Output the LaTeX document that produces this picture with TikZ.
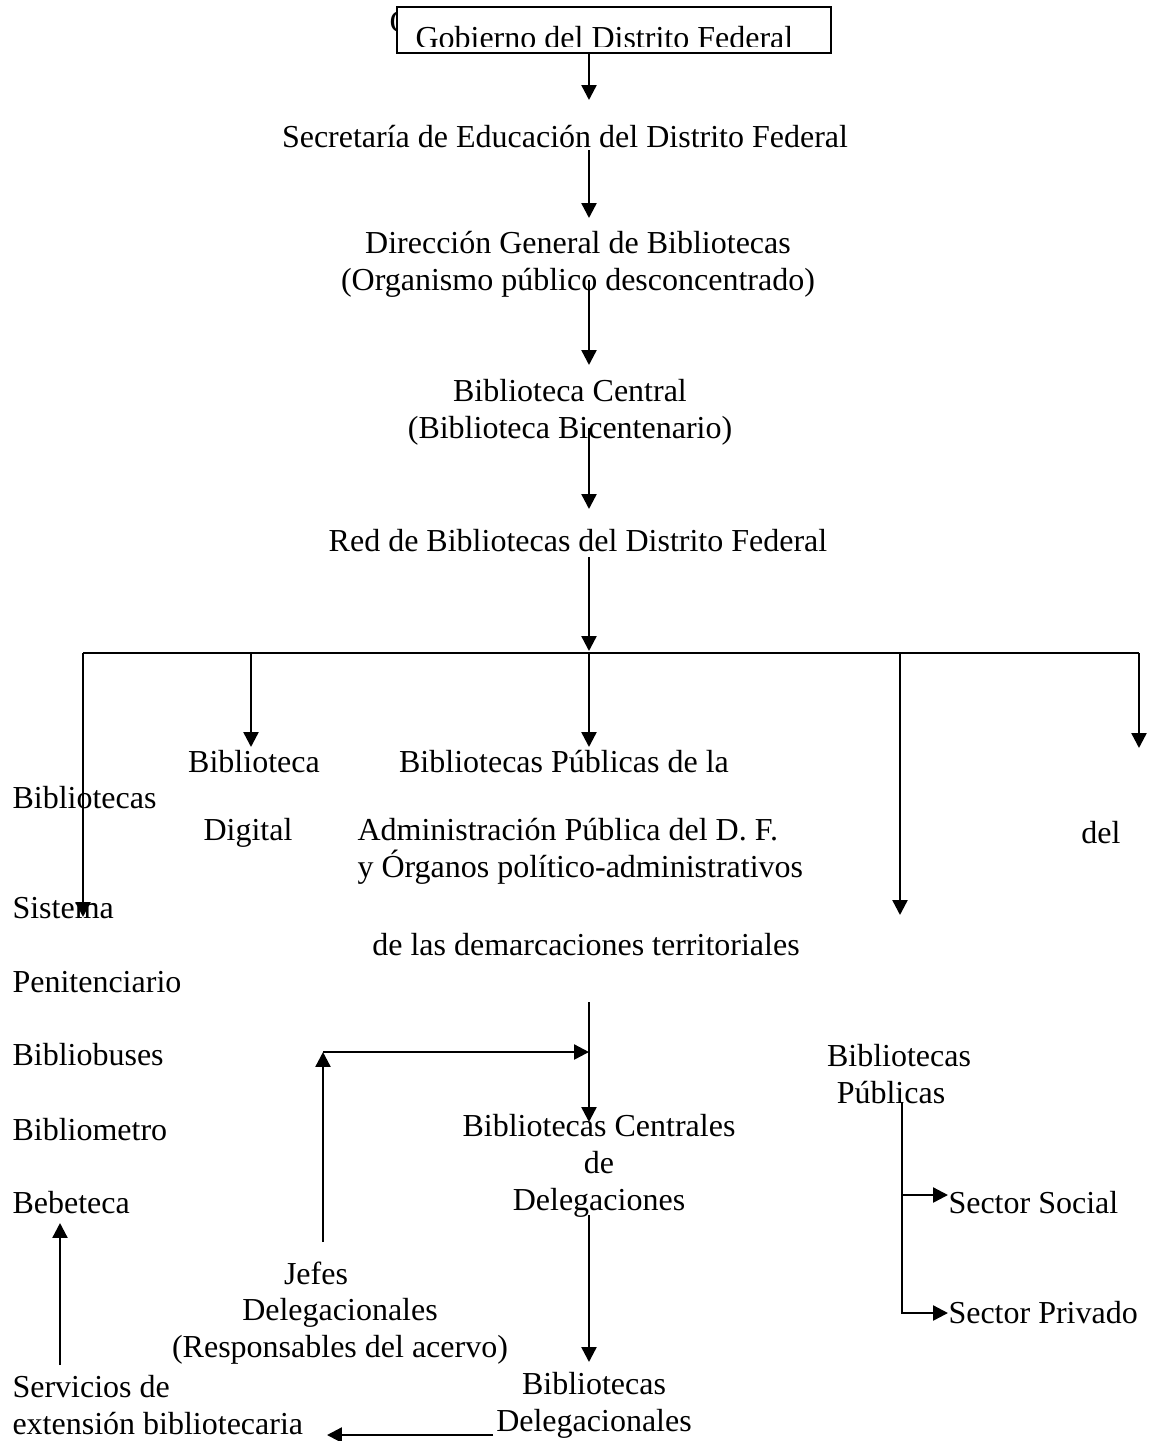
\documentclass[tikz,border=0pt]{standalone}
\usepackage{fontspec}
\setmainfont{Liberation Serif}
\usetikzlibrary{positioning,arrows.meta}

\begin{document}
\begin{tikzpicture}[x=0.375pt, y=-0.375pt, font=\fontsize{12}{13.8}\selectfont] %Red de bibliotecas
    \tikzstyle{texto} = [inner sep=0pt, align=center]
    \tikzstyle{izq} = [inner sep=0pt, anchor=west, align=left]
    \tikzstyle{caja} = [draw, fill=white, line width=0.9pt, inner sep=0pt, minimum width=162.75pt, minimum height=17.25pt]
    \tikzstyle{linea} = [line width=0.9pt]
    \tikzstyle{flecha} = [line width=0.9pt, -{Triangle[width=5.6pt, length=5.6pt]}]
    \useasboundingbox (0,0) rectangle (1149,1441);

    % recuadro superior
    \node[inner sep=0pt, anchor=base west] (fragmento) at (389,32) {G};
    \node[caja] (gobierno) at (614,30) {};
    \begin{scope}
        \clip (gobierno.north west) rectangle ([yshift=3pt]gobierno.south east);
        \node[inner sep=0pt, anchor=base west] (gobiernotxt) at (415,48) {Gobierno del Distrito Federal};
    \end{scope}

    \node[texto] (secretaria) at (565,137) {Secretaría de Educación del Distrito Federal};
    \node[texto] (direccion) at (578,264) {Dirección General de Bibliotecas\\(Organismo público desconcentrado)};
    \node[texto] (central) at (570,412) {Biblioteca Central\\(Biblioteca Bicentenario)};
    \node[texto] (red) at (578,541) {Red de Bibliotecas del Distrito Federal};

    % eje central
    \coordinate (eje) at (589,0);
    \coordinate (ini1) at (gobierno.south -| eje);
    \foreach \n/\a/\b in {2/150/218, 3/280/365, 4/428/509, 5/557/651}
        \coordinate (ini\n) at (589,\a);
    \foreach \n/\b in {1/100, 2/218, 3/365, 4/509, 5/651}
    {
        \coordinate (fin\n) at (589,\b);
        \draw[flecha] (ini\n) -- (fin\n);
    }

    % barra horizontal
    \coordinate (barraL) at (83,653);
    \coordinate (barraR) at (1139,653);
    \draw[linea] (barraL) -- (barraR);
    \foreach \n/\x/\b in {sis/83/917, dig/251/747, pub/589/747, par/900/915, otr/1139/748}
    {
        \coordinate (caida\n) at (\x,\b);
        \draw[flecha] (caida\n |- barraL) -- (caida\n);
    }

    % columna izquierda
    \foreach \name/\y/\txt in {bibliotecas/798/Bibliotecas, sistema/908/Sistema, penitenciario/982/Penitenciario, bibliobuses/1055/Bibliobuses, bibliometro/1130/Bibliometro, bebeteca/1203/Bebeteca}
        \node[izq] (\name) at (12,\y) {\txt};
    \node[izq] (servicios) at (12,1405) {Servicios de\\extensión bibliotecaria};

    \node[texto] (biblioteca) at (254,762) {Biblioteca};
    \node[texto] (digital) at (248,833) {Digital};
    \node[texto] (publicas) at (564,762) {Bibliotecas Públicas de la};
    \node[izq] (administracion) at (357,851) {Administración Pública del D. F.\\y Órganos político-administrativos};
    \node[texto] (demarcaciones) at (586,945) {de las demarcaciones territoriales};
    \node[texto] (del) at (1101,833) {del};

    \node[texto] (centrales) at (599,1166) {Bibliotecas Centrales\\de\hspace*{0.6em}\\Delegaciones};
    \node[texto] (jefes) at (340,1313) {Jefes\hspace*{1.5em}\\Delegacionales\hspace*{0.45em}\\(Responsables del acervo)};
    \node[texto] (delegacionales) at (594,1405) {Bibliotecas\\Delegacionales};

    \node[texto] (bpublicas) at (899,1074) {Bibliotecas\\Públicas\hspace*{0.5em}};
    \node[izq] (social) at (948,1203) {Sector Social};
    \node[izq] (privado) at (948,1313) {Sector Privado};

    % flechas inferiores
    \coordinate (ini6) at (589,1002);
    \coordinate (fin6) at (589,1122);
    \draw[flecha] (ini6) -- (fin6);
    \coordinate (esquina) at (323,1052);
    \coordinate (jefesarr) at (323,1242);
    \draw[flecha] (jefesarr) -- (esquina);
    \draw[flecha] (esquina) -- (esquina -| ini6);
    \coordinate (ini7) at (589,1215);
    \coordinate (fin7) at (589,1362);
    \draw[flecha] (ini7) -- (fin7);
    \coordinate (ini8) at (493,1435);
    \coordinate (fin8) at (327,1435);
    \draw[flecha] (ini8) -- (fin8);
    \coordinate (bebearr) at (60,1365);
    \draw[flecha] (bebearr) -- (60,1223);

    % sectores
    \coordinate (tronco) at (902,1102);
    \draw[flecha] (tronco) |- ([yshift=3pt]social.west);
    \draw[flecha] (tronco) |- (privado.west);
\end{tikzpicture}
\end{document}
